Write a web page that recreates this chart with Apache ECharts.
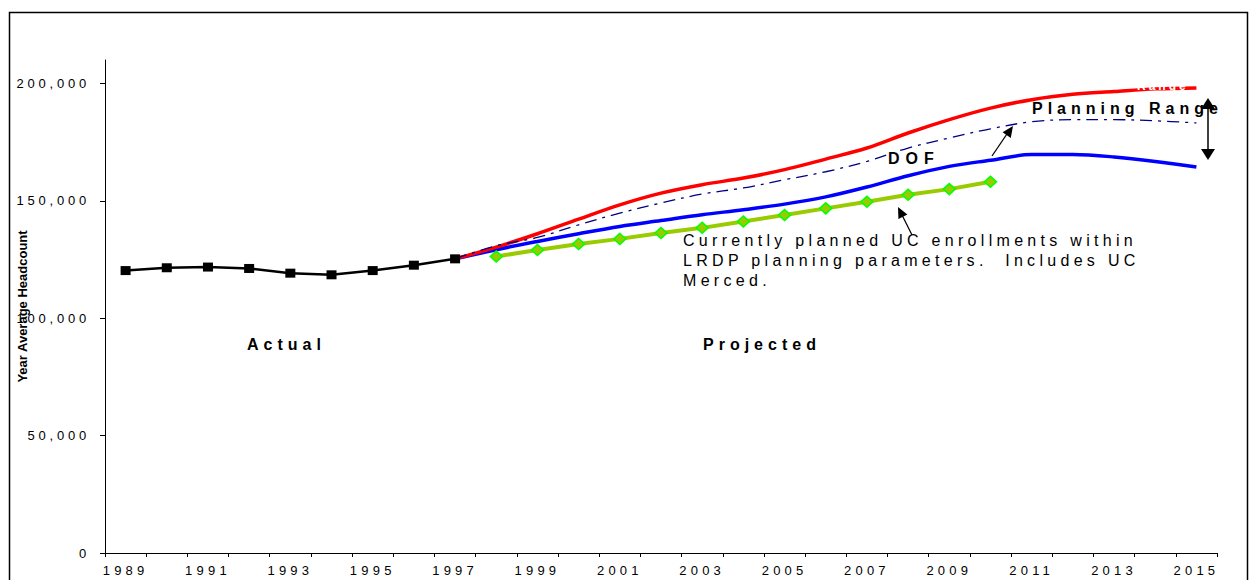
<!DOCTYPE html>
<html>
<head>
<meta charset="utf-8">
<script src="https://cdn.jsdelivr.net/npm/echarts@6/dist/echarts.min.js"></script>
<style>
  html, body { margin: 0; padding: 0; background: #fff; }
  #chart { width: 1250px; height: 580px; }
</style>
</head>
<body>
<div id="chart"></div>
<script>
// Fiscal years on the category axis
const years = ['1989','1990','1991','1992','1993','1994','1995','1996','1997','1998','1999','2000',
  '2001','2002','2003','2004','2005','2006','2007','2008','2009','2010','2011','2012','2013','2014','2015'];

// Actual year-average headcount, 1989-1997
const actual = [120300, 121500, 121800, 121200, 119200, 118500, 120300, 122600, 125300];

// Projections, 1997-2015: upper planning range, DOF, lower planning range
const projStart = 8;
const upperRange = [125300, 130300, 136000, 142200, 148300, 153300, 156900, 159700, 163300, 167800,
  172500, 178900, 184600, 189500, 193100, 195400, 196600, 197700, 198100];
const dof = [125300, 130900, 134400, 139800, 144800, 149100, 152900, 155500, 159000, 162400,
  166800, 172500, 176800, 180700, 183700, 184600, 184600, 184100, 183200];
const lowerRange = [125300, 129200, 132700, 136000, 139100, 141600, 144100, 146200, 148600, 151700,
  155900, 160700, 164700, 167300, 169700, 169700, 168700, 166800, 164400];

// Currently planned enrollments within LRDP parameters, 1998-2010
const lrdpStart = 9;
const lrdp = [126300, 129100, 131600, 133800, 136300, 138500, 141200, 144000, 146800, 149600,
  152600, 155000, 158100];

// Value-axis ticks
const yTicks = [0, 50000, 100000, 150000, 200000];

// Place a partial series on the full year axis
function onYears(start, values) {
  return years.map((_, i) => (i >= start && i < start + values.length) ? values[i - start] : '-');
}

const FONT = '"Liberation Sans", Arial, Helvetica, sans-serif';
const fmt = v => v.toLocaleString('en-US');

// Arrowhead triangle at the tip of a segment
function arrowHead(x0, y0, x1, y1, len, half) {
  const dx = x1 - x0, dy = y1 - y0, d = Math.hypot(dx, dy);
  const ux = dx / d, uy = dy / d;
  const bx = x1 - ux * len, by = y1 - uy * len;
  return [[x1, y1], [bx - uy * half, by + ux * half], [bx + uy * half, by - ux * half]];
}

const noteLines = ['Currently planned UC enrollments within',
  'LRDP planning parameters.  Includes UC', 'Merced.'];

function label(text, x, y, size, weight, fill) {
  return {
    type: 'text', x: x, y: y, silent: true, z: 50,
    style: { text: text, fontFamily: FONT, fontSize: size, fontWeight: weight,
      fill: fill || '#000', textVerticalAlign: 'middle' }
  };
}

const option = {
  backgroundColor: '#fff',
  animation: false,
  grid: { left: 105, right: 33, top: 60, bottom: 27, containLabel: false },
  xAxis: {
    type: 'category',
    data: years,
    boundaryGap: true,
    axisLine: { lineStyle: { color: '#000', width: 1 } },
    axisTick: { show: true, interval: 0, alignWithLabel: false, length: 4, lineStyle: { color: '#000' } },
    axisLabel: { interval: 1, margin: 11, color: '#000', fontFamily: FONT, fontSize: 13 },
    splitLine: { show: false }
  },
  yAxis: {
    type: 'value',
    min: 0, max: 210000, interval: 50000,
    name: 'Year Average Headcount',
    nameLocation: 'middle',
    nameGap: 76,
    nameTextStyle: { color: '#000', fontFamily: FONT, fontSize: 13, fontWeight: 'bold' },
    axisLine: { show: true, lineStyle: { color: '#000', width: 1 } },
    axisTick: { show: true, length: 5, customValues: yTicks, lineStyle: { color: '#000' } },
    axisLabel: { customValues: yTicks, margin: 15, color: '#000', fontFamily: FONT, fontSize: 13,
      formatter: v => fmt(v) },
    splitLine: { show: false }
  },
  series: [
    {
      name: 'Lower Range', type: 'line', data: onYears(projStart, lowerRange),
      smooth: 0.35, showSymbol: false, lineStyle: { color: '#0000FF', width: 3.5 }, z: 2
    },
    {
      name: 'Upper Range', type: 'line', data: onYears(projStart, upperRange),
      smooth: 0.35, showSymbol: false, lineStyle: { color: '#FF0000', width: 3.5 }, z: 3
    },
    {
      name: 'DOF', type: 'line', data: onYears(projStart, dof),
      smooth: 0.35, showSymbol: false,
      lineStyle: { color: '#000080', width: 1.3, type: [12, 6, 3, 6] }, z: 4
    },
    {
      name: 'LRDP', type: 'line', data: onYears(lrdpStart, lrdp),
      symbol: 'diamond', symbolSize: [12, 11], showSymbol: true,
      lineStyle: { color: '#99CC00', width: 4 },
      itemStyle: { color: '#99CC00', borderColor: '#00FF00', borderWidth: 1.5 }, z: 5
    },
    {
      name: 'Actual', type: 'line', data: onYears(0, actual),
      symbol: 'rect', symbolSize: [10, 9], showSymbol: true,
      lineStyle: { color: '#000', width: 2.5 },
      itemStyle: { color: '#000' }, z: 6
    }
  ],
  graphic: [
    { type: 'rect', silent: true, z: -10,
      shape: { x: 9.5, y: 12.5, width: 1238, height: 620 },
      style: { fill: 'none', stroke: '#000', lineWidth: 1.5 } },
    label('Range', 1137, 86, 12, 'bold', '#fff'),
    label('Planning Range', 1032, 108, 16, 'bold'),
    label('DOF', 888, 158, 16, 'bold'),
    label('Actual', 247, 344, 16, 'bold'),
    label('Projected', 703, 344, 16, 'bold'),
    {
      type: 'text', x: 683, y: 230, silent: true, z: 50,
      style: { text: noteLines.join('\n'), fontFamily: FONT, fontSize: 16, lineHeight: 20,
        fill: '#000', textVerticalAlign: 'top' }
    },
    // arrow to the DOF line
    { type: 'line', silent: true, z: 60, shape: { x1: 992, y1: 156, x2: 1009, y2: 131 },
      style: { stroke: '#000', lineWidth: 1.3 } },
    { type: 'polygon', silent: true, z: 60, shape: { points: arrowHead(992, 156, 1013, 126, 11, 5) },
      style: { fill: '#000' } },
    // arrow from the note to the LRDP line
    { type: 'line', silent: true, z: 60, shape: { x1: 912, y1: 235, x2: 900, y2: 211 },
      style: { stroke: '#000', lineWidth: 1.3 } },
    { type: 'polygon', silent: true, z: 60, shape: { points: arrowHead(912, 235, 898, 207, 11, 5) },
      style: { fill: '#000' } },
    // double arrow spanning the planning range
    { type: 'line', silent: true, z: 60, shape: { x1: 1208, y1: 104, x2: 1208, y2: 154 },
      style: { stroke: '#000', lineWidth: 1.5 } },
    { type: 'polygon', silent: true, z: 60, shape: { points: arrowHead(1208, 130, 1208, 98, 11, 7) },
      style: { fill: '#000' } },
    { type: 'polygon', silent: true, z: 60, shape: { points: arrowHead(1208, 130, 1208, 160, 11, 7) },
      style: { fill: '#000' } }
  ]
};

const chart = echarts.init(document.getElementById('chart'), null, { renderer: 'svg' });
chart.setOption(option);

// Letter tracking for the spaced-out lettering
const tracking = new Map();
years.forEach(y => tracking.set(y, 4.2));
yTicks.forEach(v => tracking.set(fmt(v), 3.8));
noteLines.forEach(l => tracking.set(l, 4.3));
['Planning Range', 'Actual', 'Projected'].forEach(t => tracking.set(t, 5));
tracking.set('DOF', 6);
tracking.set('Range', 3);

function applyTracking() {
  document.querySelectorAll('#chart svg text').forEach(t => {
    const s = tracking.get(t.textContent);
    if (s) t.setAttribute('letter-spacing', s + 'px');
  });
}
applyTracking();
chart.on('finished', applyTracking);
</script>
</body>
</html>
